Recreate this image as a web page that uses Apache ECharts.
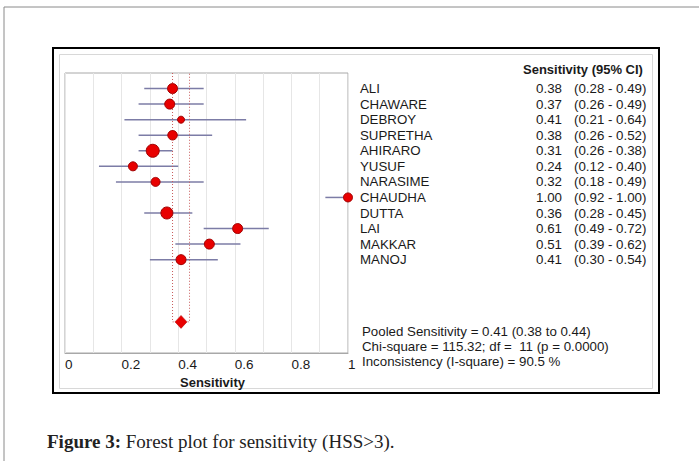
<!DOCTYPE html>
<html><head><meta charset="utf-8">
<script src="https://cdn.jsdelivr.net/npm/echarts@6/dist/echarts.min.js"></script>
<style>html,body{margin:0;padding:0;background:#fff}#c{width:699px;height:461px}</style>
</head><body><div id="c"></div>
<script>
const studies = ['ALI','CHAWARE','DEBROY','SUPRETHA','AHIRARO','YUSUF','NARASIME','CHAUDHA','DUTTA','LAI','MAKKAR','MANOJ'];
const sens   = [0.38,0.37,0.41,0.38,0.31,0.24,0.32,1.00,0.36,0.61,0.51,0.41];
const ciLow  = [0.28,0.26,0.21,0.26,0.26,0.12,0.18,0.92,0.28,0.49,0.39,0.30];
const ciHigh = [0.49,0.49,0.64,0.52,0.38,0.40,0.49,1.00,0.45,0.72,0.62,0.54];
const weights = [10,10,7,9.5,13,9,9,9,12,10,10,10];
const pooled = 0.41, pooledLow = 0.38, pooledHigh = 0.44;
const summaryLines = ['Pooled Sensitivity = 0.41 (0.38 to 0.44)','Chi-square = 115.32; df =  11 (p = 0.0000)','Inconsistency (I-square) = 90.5 %'];
const tableHeader = 'Sensitivity (95% CI)';
const xAxisName = 'Sensitivity';
const captionBold = 'Figure 3:';
const captionText = ' Forest plot for sensitivity (HSS>3).';

const fmt = v => v.toFixed(2);
const pooledRow = studies.length + 3;
const F = 'Liberation Sans, Arial, sans-serif';
const FS = 13.3;
const chart = echarts.init(document.getElementById('c'), null, {renderer:'svg'});
const rowAxis = (offset, align, fn) => ({
  type:'value', inverse:true, min:-1, max:pooledRow+2, interval:1, position:'right', offset,
  axisLine:{show:false}, axisTick:{show:false}, splitLine:{show:false},
  axisLabel:{margin:0, align, fontFamily:F, fontSize:FS, color:'#1a1a1a',
    formatter: v => (v>=0 && v<studies.length) ? fn(v) : ''}
});
chart.setOption({
  animation:false,
  backgroundColor:'#fff',
  graphic:[
    {type:'polyline', shape:{points:[[4,461],[4,7],[699,7]]}, style:{stroke:'#8a8a8a', fill:null, lineWidth:1}},
    {type:'rect', shape:{x:53,y:48,width:606,height:345}, style:{stroke:'#000', fill:null, lineWidth:2}},
    {type:'rect', shape:{x:59.5,y:54.5,width:593,height:334}, style:{stroke:'#d8d8d8', fill:null, lineWidth:1}}
  ],
  title:[
    {text:tableHeader, left:523, top:63, padding:0, textStyle:{fontFamily:F, fontSize:13, fontWeight:'bold', color:'#1a1a1a'}},
    {text:summaryLines.join('\n'), left:362, top:324, padding:0, textStyle:{fontFamily:F, fontSize:FS, fontWeight:'normal', color:'#1a1a1a', lineHeight:15}},
    {text:'{b|'+captionBold+'}'+captionText, left:47, top:432, padding:0, textStyle:{fontFamily:'Liberation Serif, serif', fontSize:19, fontWeight:'normal', color:'#222',
      rich:{b:{fontFamily:'Liberation Serif, serif', fontSize:19, fontWeight:'bold', color:'#222'}}}}
  ],
  grid:{left:65, right:351, top:73, bottom:108, show:true, borderColor:'#a8a8a8', borderWidth:1, outerBoundsMode:'none'},
  xAxis:{type:'value', min:0, max:1, interval:0.1,
    name:xAxisName, nameLocation:'middle', nameGap:19,
    nameTextStyle:{fontFamily:F, fontSize:13, fontWeight:'bold', color:'#1a1a1a', padding:[0,0,0,12]},
    axisLine:{onZero:false, lineStyle:{color:'#a8a8a8'}}, axisTick:{show:false},
    splitLine:{lineStyle:{color:'#e6e6e6'}},
    axisLabel:{margin:4, align:'left', fontFamily:F, fontSize:13.5, color:'#1a1a1a', showMinLabel:true, showMaxLabel:true,
      formatter: v => { const k = Math.round(v*10); return k%2===0 ? String(k/10) : ''; }}},
  yAxis:[
    {type:'value', inverse:true, min:-1, max:pooledRow+2, interval:1, show:false},
    rowAxis(12,'left', i => studies[i]),
    rowAxis(214,'right', i => fmt(sens[i])),
    rowAxis(226,'left', i => '(' + fmt(ciLow[i]) + ' - ' + fmt(ciHigh[i]) + ')')
  ],
  series:[
    {type:'custom', yAxisIndex:0, data: studies.map((s,i)=>[ciLow[i], ciHigh[i], i]),
      renderItem:(p, api) => {
        const a = api.coord([api.value(0), api.value(2)]);
        const b = api.coord([api.value(1), api.value(2)]);
        return {type:'line', shape:{x1:a[0], y1:a[1], x2:b[0], y2:b[1]}, style:{stroke:'#7c7ca6', lineWidth:1.5}};
      }, z:2},
    {type:'line', yAxisIndex:0, data:[[pooledLow,-1],[pooledLow,pooledRow],[pooledHigh,pooledRow],[pooledHigh,-1]],
      symbol:'none', lineStyle:{color:'#c85a5a', width:1, type:[1,2]}, z:3},
    {type:'scatter', yAxisIndex:0, data: studies.map((s,i)=>[sens[i], i, weights[i]]),
      symbolSize: v => v[2], itemStyle:{color:'#e80000', borderColor:'#a00000', borderWidth:1, opacity:1}, z:4},
    {type:'scatter', yAxisIndex:0, data:[[pooled, pooledRow]], symbol:'diamond', symbolSize:[12,13],
      itemStyle:{color:'#e80000', borderColor:'#b00000', borderWidth:0.5, opacity:1}, z:5}
  ]
});
</script></body></html>
